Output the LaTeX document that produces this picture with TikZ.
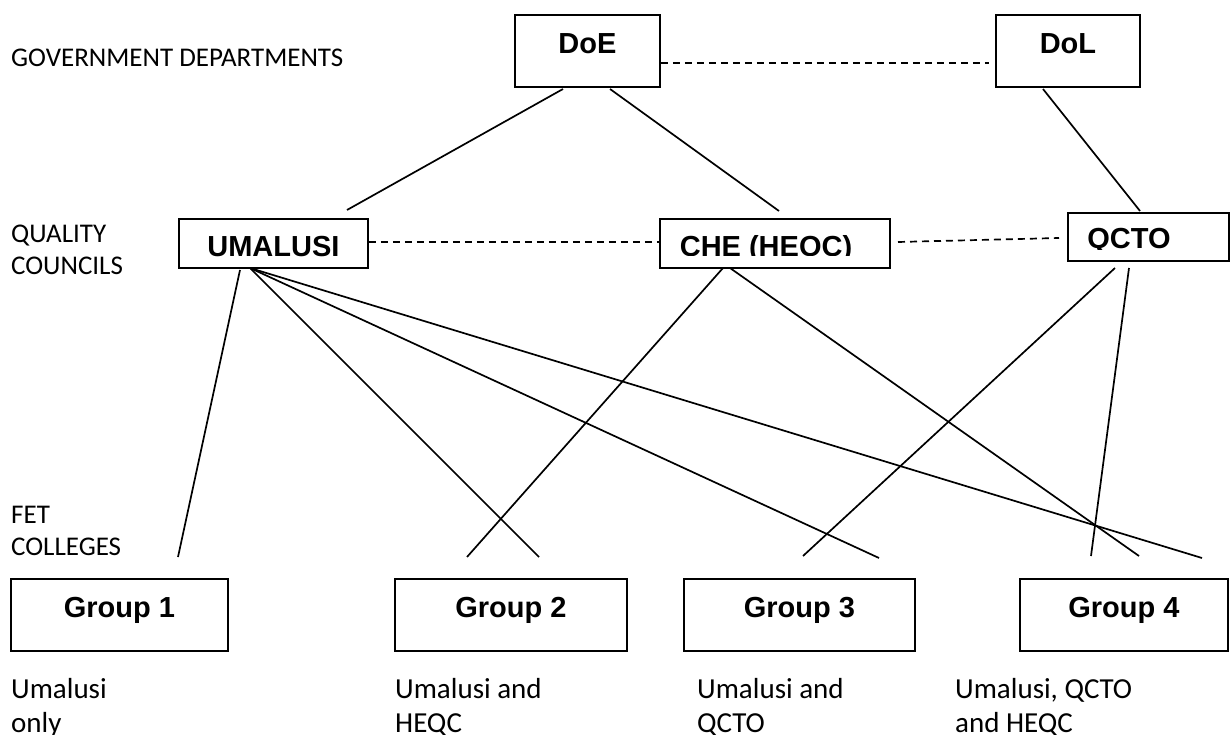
\documentclass[tikz,border=0pt]{standalone}
\usepackage{fontspec}
\setmainfont{Carlito}
\newfontfamily\arialf{Liberation Sans}
\begin{document}
\begin{tikzpicture}[x=1pt,y=-1pt,
  box/.style={draw, line width=1.9pt, rectangle, inner sep=0pt, anchor=north west,
    font=\arialf\bfseries\fontsize{29}{32}\selectfont},
  boxtext/.style={inner sep=0pt, anchor=base, font=\arialf\bfseries\fontsize{29}{32}\selectfont},
  lbl/.style={anchor=base west, inner sep=0pt, align=left, font=\fontsize{27}{32}\selectfont},
  note/.style={anchor=base west, inner sep=0pt, align=left, font=\fontsize{29}{34}\selectfont},
  link/.style={line width=1.7pt},
  dashlink/.style={line width=1.7pt, dash pattern=on 7pt off 5pt}]
\useasboundingbox (0,0) rectangle (1232,735);
\fill[white] (0,0) rectangle (1232,735);

% level labels (base anchor = last line)
\node[lbl] (gd) at (11,67) {GOVERNMENT DEPARTMENTS};
\node[lbl] (qc) at (11,275) {QUALITY\\COUNCILS};
\node[lbl] (fet) at (11,555) {FET\\COLLEGES};

% government departments
\node[box, minimum width=145pt, text height=39pt, text depth=33pt] (doe) at (514,14) {DoE};
\node[box, minimum width=144pt, text height=39pt, text depth=33pt] (dol) at (995,14) {DoL};

% quality councils
\node[box, minimum width=189pt, text height=38pt, text depth=11pt] (uma) at (178,218) {UMALUSI\hspace{14pt}};
\node[box, minimum width=230pt, minimum height=49pt] (che) at (659,218) {};
\begin{scope}
  \clip (659,210) rectangle (889,255.5);
  \node[boxtext] (chet) at (766,256.5) {CHE (HEQC)};
\end{scope}
\node[box, minimum width=161pt, minimum height=48pt] (qcto) at (1067,212) {};
\begin{scope}
  \clip (1067,205) rectangle (1228,250);
  \node[boxtext] (qctot) at (1129,249) {QCTO};
\end{scope}

% colleges
\node[box, minimum width=217pt, text height=39pt, text depth=33pt] (g1) at (10,578) {Group 1};
\node[box, minimum width=232pt, text height=39pt, text depth=33pt] (g2) at (394,578) {Group 2};
\node[box, minimum width=231pt, text height=39pt, text depth=33pt] (g3) at (683,578) {Group 3};
\node[box, minimum width=208pt, text height=39pt, text depth=33pt] (g4) at (1019,578) {Group 4};

% notes
\node[note] (n1) at (11,732) {Umalusi\\only};
\node[note] (n2) at (395,732) {Umalusi and\\HEQC};
\node[note] (n3) at (697,732) {Umalusi and\\QCTO};
\node[note] (n4) at (955,732) {Umalusi, QCTO\\and HEQC};

% connector end points
\coordinate (d1) at (563,89);  \coordinate (ut) at (347,210);
\coordinate (d2) at (610,89);  \coordinate (ct) at (779,211);
\coordinate (l1) at (1043,89); \coordinate (qt) at (1140,211);
\coordinate (u1) at (240,270); \coordinate (u2) at (250,268);
\coordinate (c1) at (723,268); \coordinate (c2) at (730,268);
\coordinate (q1) at (1115,268); \coordinate (q2) at (1129,268);
\coordinate (g1a) at (178,557);
\coordinate (g2a) at (467,557); \coordinate (g2b) at (539,557);
\coordinate (g3a) at (803,556); \coordinate (g3b) at (879,558);
\coordinate (g4a) at (1091,556); \coordinate (g4b) at (1139,556); \coordinate (g4c) at (1202,558);

\draw[link] (d1) -- (ut);
\draw[link] (d2) -- (ct);
\draw[link] (l1) -- (qt);
\draw[link] (u1) -- (g1a);
\draw[link] (u2) -- (g2b);
\draw[link] (u2) -- (g3b);
\draw[link] (u2) -- (g4c);
\draw[link] (c1) -- (g2a);
\draw[link] (c2) -- (g4b);
\draw[link] (q1) -- (g3a);
\draw[link] (q2) -- (g4a);

% dashed links
\coordinate (dlend) at (989,63);
\coordinate (cq1) at (898,242);
\coordinate (cq2) at (1059,238);
\draw[dashlink] (doe.east |- dlend) -- (dlend);
\draw[dashlink] (uma.east |- 0,242) -- (che.west |- 0,242);
\draw[dashlink] (cq1) -- (cq2);
\end{tikzpicture}
\end{document}
